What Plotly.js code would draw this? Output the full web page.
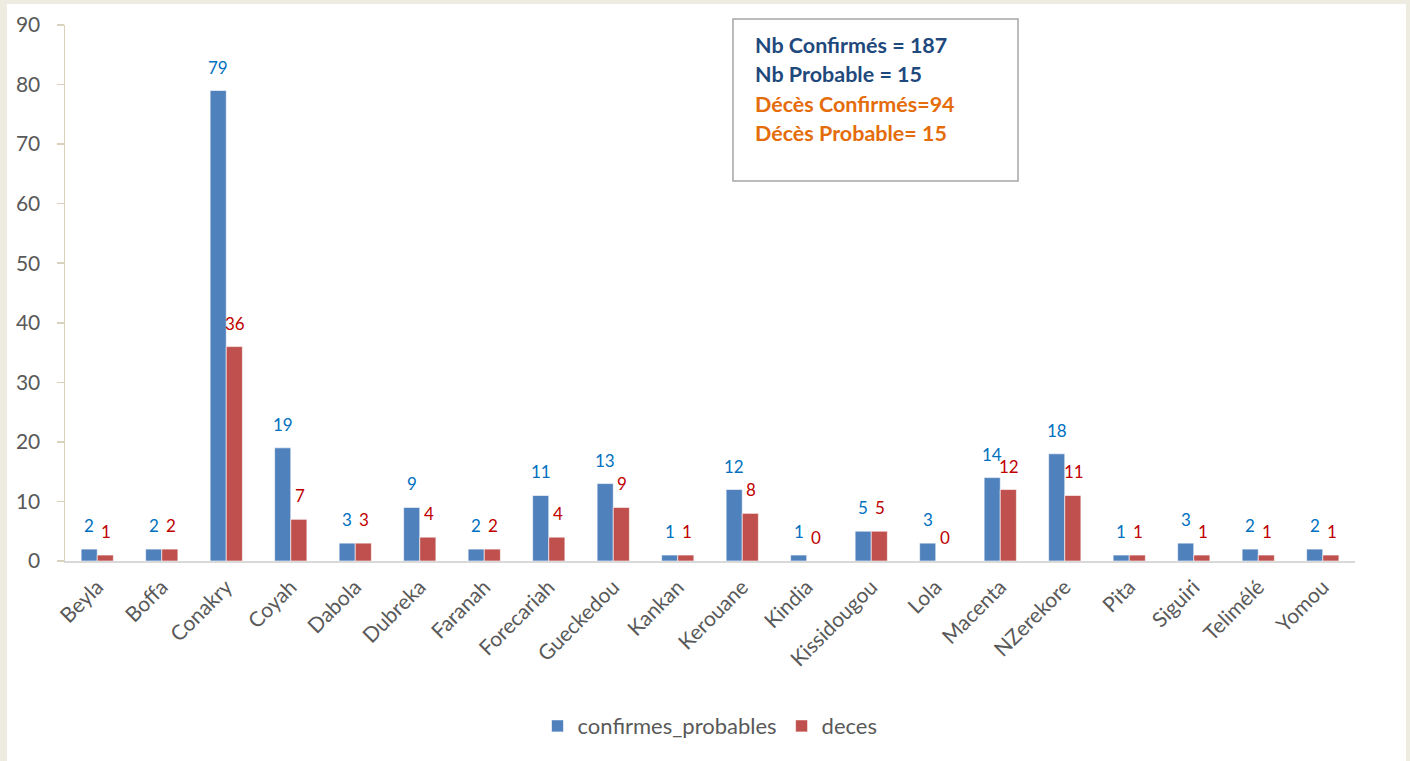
<!DOCTYPE html>
<html>
<head>
<meta charset="utf-8">
<script src="https://cdn.plot.ly/plotly-3.0.1.min.js"></script>
<style>
  html, body { margin:0; padding:0; width:1410px; height:761px; background:#EEECE1; overflow:hidden; }
  #panel { position:absolute; left:7px; top:4px; width:1399px; height:757px; background:#FFFFFF; }
  #chart { position:absolute; left:0; top:0; width:1410px; height:761px; }
</style>
</head>
<body>
<div id="panel"></div>
<div id="chart"></div>
<script>
const categories = ["Beyla","Boffa","Conakry","Coyah","Dabola","Dubreka","Faranah","Forecariah","Gueckedou","Kankan","Kerouane","Kindia","Kissidougou","Lola","Macenta","NZerekore","Pita","Siguiri","Telimélé","Yomou"];
const confirmesProbables = [2,2,79,19,3,9,2,11,13,1,12,1,5,3,14,18,1,3,2,2];
const deces = [1,2,36,7,3,4,2,4,9,1,8,0,5,0,12,11,1,1,1,1];
const seriesNames = ["confirmes_probables","deces"];
const summaryLines = ["Nb Confirmés = 187","Nb Probable = 15","Décès Confirmés=94","Décès Probable= 15"];
const summaryColors = ["#1F497D","#1F497D","#E46C0A","#E46C0A"];

const FONT = "Lato, 'Open Sans', sans-serif";
const traces = [
  {type:'bar', name:seriesNames[0], x:categories, y:confirmesProbables,
   marker:{color:'#4F81BD', line:{color:'rgba(255,255,255,0.6)', width:1}}, hoverinfo:'x+y'},
  {type:'bar', name:seriesNames[1], x:categories, y:deces,
   marker:{color:'#C0504D', line:{color:'rgba(255,255,255,0.6)', width:1}}, hoverinfo:'x+y'}
];

const annotations = [];
categories.forEach((c,i)=>{
  annotations.push({x:c, y:confirmesProbables[i], xref:'x', yref:'y', text:String(confirmesProbables[i]),
    showarrow:false, xshift:-8, yshift:11, yanchor:'bottom', xanchor:'center',
    font:{family:FONT, size:17, color:'#0070C0'}});
  annotations.push({x:c, y:deces[i], xref:'x', yref:'y', text:String(deces[i]),
    showarrow:false, xshift:9, yshift:11, yanchor:'bottom', xanchor:'center',
    font:{family:FONT, size:17, color:'#C00000'}});
});
const boxLinePx = [45, 74, 104, 133];
summaryLines.forEach((t,i)=>{
  annotations.push({x:(753-65)/1290, y:(561-boxLinePx[i])/536, xref:'paper', yref:'paper',
    text:'<b>'+t+'</b>', showarrow:false, xanchor:'left', yanchor:'middle',
    font:{family:FONT, size:21.5, color:summaryColors[i]}});
});

const layout = {
  width:1410, height:761,
  paper_bgcolor:'rgba(0,0,0,0)', plot_bgcolor:'rgba(0,0,0,0)',
  margin:{l:65, r:55, t:25, b:200},
  barmode:'group', bargap:0.5, bargroupgap:0,
  showlegend:true,
  legend:{orientation:'h', x:0.5, xanchor:'center', y:-0.308, yanchor:'middle',
    font:{family:FONT, size:22, color:'#595959'}, itemwidth:30, traceorder:'normal'},
  xaxis:{type:'category', showline:true, linecolor:'#D9D9D9', linewidth:1.5, ticks:'',
    tickangle:-45, showgrid:false, zeroline:false, ticklabelstandoff:4,
    tickfont:{family:FONT, size:21, color:'#595959'}},
  yaxis:{range:[0,90], dtick:10, showline:true, linecolor:'#D8D2BC', linewidth:1.5,
    ticks:'outside', ticklen:7, tickcolor:'#D8D2BC', tickwidth:1.5, showgrid:false, zeroline:false,
    ticklabelstandoff:12,
    tickfont:{family:FONT, size:21, color:'#595959'}},
  shapes:[{type:'rect', xref:'paper', yref:'paper',
    x0:(733-65)/1290, x1:(1018-65)/1290, y0:(561-181)/536, y1:(561-19)/536,
    line:{color:'#A6A6A6', width:1.5}, fillcolor:'#FFFFFF'}],
  annotations:annotations
};
Plotly.newPlot('chart', traces, layout, {displayModeBar:false, staticPlot:true});
</script>
</body>
</html>
